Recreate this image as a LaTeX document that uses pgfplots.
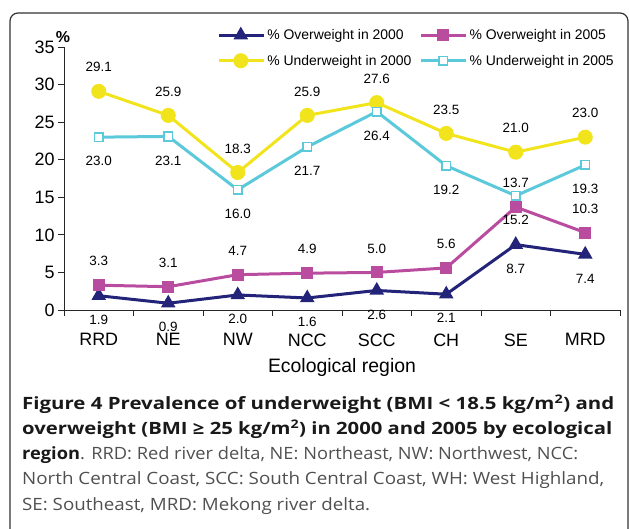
\documentclass[border=0pt]{standalone}
\usepackage{fontspec}
\setmainfont{Liberation Sans}
\newfontfamily\capfont{Open Sans}
\usepackage{pgfplots}
\pgfplotsset{compat=1.18}
\definecolor{navy}{RGB}{35,35,122}
\definecolor{magen}{RGB}{186,76,160}
\definecolor{yell}{RGB}{242,228,28}
\definecolor{cyanl}{RGB}{92,201,219}
\definecolor{capgray}{RGB}{80,80,80}

\begin{document}
\begin{tikzpicture}
\useasboundingbox (0,0) rectangle (629bp,529bp);
\draw[rounded corners=8bp, line width=1.2bp, black!80] (10bp,-20bp) rectangle (628bp,516bp);
\begin{axis}[
    at={(64bp,219bp)}, anchor=south west,
    scale only axis, width=556bp, height=263bp,
    xmin=-0.5, xmax=7.5, ymin=0, ymax=35,
    axis lines=left,
    axis line style={-, black!85, line width=0.8bp},
    xtick={0,...,7},
    xticklabels={RRD,NE,NW,NCC,SCC,CH,SE,MRD},
    minor xtick={-0.5,0.5,...,7.5},
    ytick={0,5,...,35},
    tick align=outside,
    major tick length=6bp, minor tick length=6bp,
    major x tick style={draw=none},
    minor x tick style={black!85, line width=0.8bp},
    ytick style={black!85, line width=0.8bp},
    tick label style={font=\fontsize{18}{20}\selectfont},
    xticklabel style={yshift=-14bp},
    xlabel={Ecological region},
    xlabel style={font=\fontsize{19.5}{22}\selectfont, yshift=-5bp},
    /pgf/number format/assume math mode=true,
    nodes near coords={\pgfmathprintnumber[fixed,fixed zerofill,precision=1]{\pgfplotspointmeta}},
    every node near coord/.append style={anchor=center, font=\fontsize{13.5}{15}\selectfont, text=black},
    legend columns=2,
    legend style={draw=none, fill=none, at={(0.27,1.083)}, anchor=north west,
      font=\fontsize{14}{16}\selectfont, row sep=10bp,
      /tikz/every even column/.append style={column sep=6bp}},
    legend cell align=left,
    legend image code/.code={\draw[mark repeat=2,mark phase=2,#1] plot coordinates {(0bp,0bp) (22bp,0bp) (45bp,0bp)};},
  ]
  % overweight 2000
  \addplot[color=navy, line width=3bp, mark=triangle*, mark size=5.5bp,
    every node near coord/.append style={yshift=-24bp}]
    coordinates {(0,1.9)(1,0.9)(2,2.0)(3,1.6)(4,2.6)(5,2.1)(6,8.7)(7,7.4)};
  \addlegendentry{\% Overweight in 2000}
  % overweight 2005
  \addplot[color=magen, line width=3bp, mark=square*, mark size=4.5bp,
    every node near coord/.append style={yshift=24bp}]
    coordinates {(0,3.3)(1,3.1)(2,4.7)(3,4.9)(4,5.0)(5,5.6)(6,13.7)(7,10.3)};
  \addlegendentry{\% Overweight in 2005}
  % underweight 2000
  \addplot[color=yell, line width=3bp, mark=*, mark size=6bp,
    every node near coord/.append style={yshift=24bp}]
    coordinates {(0,29.1)(1,25.9)(2,18.3)(3,25.9)(4,27.6)(5,23.5)(6,21.0)(7,23.0)};
  \addlegendentry{\% Underweight in 2000}
  % underweight 2005
  \addplot[color=cyanl, line width=3bp, mark=square*, mark size=4.3bp,
    mark options={fill=white, line width=1.6bp},
    every node near coord/.append style={yshift=-24bp}]
    coordinates {(0,23.0)(1,23.1)(2,16.0)(3,21.7)(4,26.4)(5,19.2)(6,15.2)(7,19.3)};
  \addlegendentry{\% Underweight in 2005}
\end{axis}
\node[font=\bfseries\fontsize{16}{18}\selectfont] at (63bp,492bp) {\%};
% caption, each line stretched to the width it has in the reference
\begin{scope}[every node/.style={anchor=base west, inner sep=0pt, font=\capfont\fontsize{17}{25}\selectfont}]
\node[text=black!90] at (22bp,119bp) {\resizebox{592bp}{\height}{\bfseries Figure 4 Prevalence of underweight (BMI < 18.5 kg/m\textsuperscript{2}) and}};
\node[text=black!90] at (22bp,94bp) {\resizebox{590bp}{\height}{\bfseries overweight (BMI ≥ 25 kg/m\textsuperscript{2}) in 2000 and 2005 by ecological}};
\node[text=capgray] at (22bp,69bp) {\resizebox{556bp}{\height}{\textcolor{black!90}{\bfseries region}. RRD: Red river delta, NE: Northeast, NW: Northwest, NCC:}};
\node[text=capgray] at (22bp,44bp) {\resizebox{582bp}{\height}{North Central Coast, SCC: South Central Coast, WH: West Highland,}};
\node[text=capgray] at (22bp,19bp) {\resizebox{348bp}{\height}{SE: Southeast, MRD: Mekong river delta.}};
\end{scope}
\end{tikzpicture}
\end{document}
